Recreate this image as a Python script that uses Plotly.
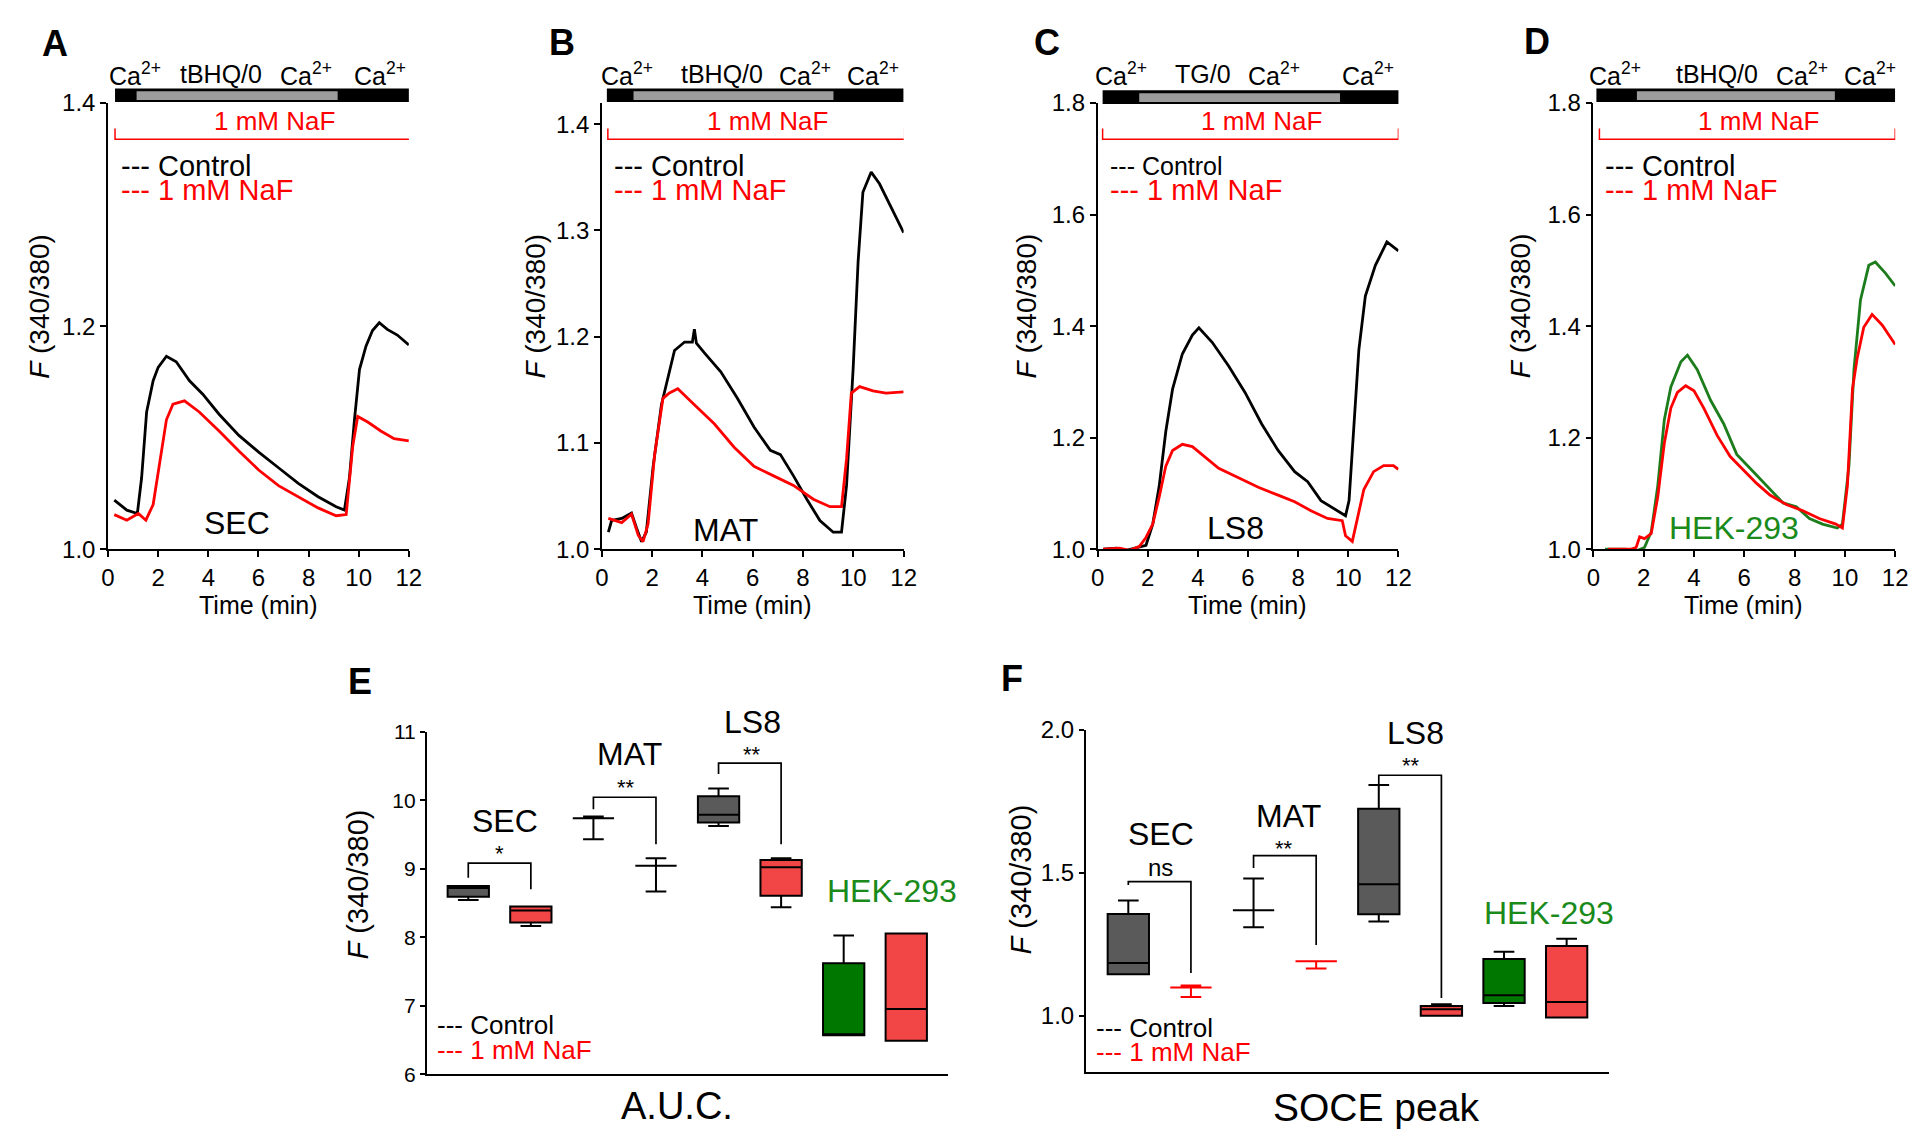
import plotly.graph_objects as go

W, H = 1920, 1137
def px(x): return x / W
def py(y): return 1 - y / H

FONT = "Liberation Sans, Arial, Helvetica, sans-serif"
RED = "#ff0000"
GREEN = "#1d7d1d"
GREEN_TXT = "#1a8a1a"
GRAY_FILL = "#5a5a5a"
RED_FILL = "#f24646"
GREEN_FILL = "#007800"

# ---------------- Data: time courses (min, F340/380) ----------------
A_ctrl_t = [0.25,0.75,1.17,1.34,1.54,1.80,2.0,2.33,2.72,3.25,3.78,4.43,5.22,6.01,6.8,7.59,8.38,9.1,9.43,9.63,9.83,10.03,10.29,10.55,10.82,11.14,11.54,12.0]
A_ctrl_v = [1.044,1.035,1.032,1.064,1.123,1.151,1.163,1.173,1.168,1.151,1.139,1.121,1.102,1.087,1.073,1.059,1.047,1.038,1.035,1.064,1.116,1.161,1.182,1.196,1.203,1.197,1.192,1.183]
A_naf_t = [0.25,0.75,1.21,1.51,1.80,2.07,2.33,2.59,3.05,3.64,4.43,5.22,6.01,6.8,7.59,8.38,9.1,9.5,9.76,9.96,10.36,10.88,11.41,12.0]
A_naf_v = [1.031,1.026,1.032,1.026,1.040,1.078,1.116,1.130,1.133,1.123,1.106,1.088,1.071,1.057,1.047,1.037,1.030,1.031,1.092,1.119,1.114,1.106,1.099,1.097]

B_ctrl_t = [0.26,0.39,0.79,1.18,1.38,1.58,1.77,2.04,2.37,2.63,2.89,3.29,3.60,3.68,3.76,4.07,4.73,5.39,6.05,6.70,7.10,7.62,8.15,8.67,9.2,9.53,9.73,9.99,10.19,10.38,10.71,11.04,11.5,12.0]
B_ctrl_v = [1.016,1.027,1.029,1.034,1.020,1.007,1.016,1.078,1.136,1.162,1.187,1.195,1.195,1.207,1.194,1.185,1.167,1.142,1.115,1.093,1.089,1.069,1.047,1.027,1.016,1.016,1.060,1.169,1.271,1.336,1.355,1.344,1.322,1.298]
B_naf_t = [0.26,0.79,1.18,1.45,1.64,1.84,2.10,2.43,2.69,3.02,3.68,4.47,5.26,6.05,6.83,7.62,8.41,9.07,9.53,9.73,9.92,10.25,10.78,11.3,12.0]
B_naf_v = [1.029,1.025,1.033,1.013,1.007,1.024,1.089,1.142,1.147,1.151,1.136,1.118,1.096,1.078,1.069,1.060,1.047,1.040,1.040,1.085,1.147,1.153,1.149,1.147,1.148]

C_ctrl_t = [0.22,0.75,1.14,1.54,1.93,2.20,2.46,2.72,2.99,3.38,3.78,4.04,4.57,5.22,5.88,6.54,7.20,7.86,8.38,8.91,9.43,9.89,10.03,10.22,10.42,10.68,11.08,11.54,12.0]
C_ctrl_v = [1.0,1.002,0.998,1.002,1.007,1.045,1.114,1.211,1.287,1.350,1.384,1.397,1.371,1.329,1.281,1.225,1.177,1.139,1.121,1.087,1.073,1.060,1.087,1.218,1.357,1.454,1.509,1.551,1.535]
C_naf_t = [0.22,0.88,1.28,1.67,1.93,2.2,2.46,2.72,2.99,3.38,3.78,4.17,4.83,5.62,6.41,7.20,7.86,8.51,9.17,9.76,9.89,10.16,10.36,10.62,11.01,11.41,11.80,12.0]
C_naf_v = [1.0,1.002,0.998,1.005,1.021,1.045,1.094,1.149,1.177,1.188,1.184,1.170,1.145,1.128,1.111,1.097,1.085,1.069,1.055,1.051,1.024,1.014,1.052,1.107,1.139,1.150,1.150,1.143]

D_ctrl_t = [0.46,1.25,1.77,2.03,2.30,2.56,2.82,3.08,3.48,3.74,4.13,4.66,5.18,5.70,6.36,7.02,7.54,8.07,8.59,9.11,9.70,9.90,10.16,10.36,10.62,10.95,11.21,11.61,12.0]
D_ctrl_v = [1.0,1.0,0.998,1.003,1.031,1.114,1.232,1.291,1.336,1.348,1.322,1.267,1.225,1.170,1.139,1.107,1.083,1.076,1.055,1.045,1.038,1.045,1.149,1.322,1.447,1.509,1.515,1.495,1.472]
D_naf_t = [0.59,1.51,1.70,1.84,2.03,2.30,2.56,2.82,3.08,3.34,3.67,4.0,4.39,4.92,5.44,5.97,6.49,7.02,7.67,8.33,8.98,9.64,9.90,10.10,10.30,10.49,10.75,11.08,11.48,12.0]
D_naf_v = [1.0,1.0,1.003,1.022,1.019,1.028,1.094,1.190,1.253,1.281,1.293,1.284,1.253,1.204,1.166,1.142,1.118,1.097,1.080,1.069,1.055,1.045,1.038,1.114,1.287,1.343,1.398,1.421,1.402,1.367]

# protocol timing bars (min)
proto_black = [(0.28, 12.08), (0.2, 12.0), (0.2, 12.12), (0.12, 12.0)]
proto_gray = [(1.14, 9.16), (1.26, 9.21), (1.66, 9.67), (1.73, 9.6)]
naf_span = [(0.28, 12.08), (0.24, 12.04), (0.2, 12.0), (0.24, 12.0)]
proto_labels = [["Ca<sup>2+</sup>", "tBHQ/0", "Ca<sup>2+</sup>", "Ca<sup>2+</sup>"],
                ["Ca<sup>2+</sup>", "tBHQ/0", "Ca<sup>2+</sup>", "Ca<sup>2+</sup>"],
                ["Ca<sup>2+</sup>", "TG/0", "Ca<sup>2+</sup>", "Ca<sup>2+</sup>"],
                ["Ca<sup>2+</sup>", "tBHQ/0", "Ca<sup>2+</sup>", "Ca<sup>2+</sup>"]]
cell_names = ["SEC", "MAT", "LS8", "HEK-293"]

# ---------------- Data: box plots ----------------
groups = ["SEC ctrl", "SEC NaF", "MAT ctrl", "MAT NaF", "LS8 ctrl", "LS8 NaF", "HEK ctrl", "HEK NaF"]
box_pos = [1, 2, 3, 4, 5, 6, 7, 8]
E_q1 = [8.593, 8.217, 9.739, 9.045, 9.677, 8.607, 6.571, 6.49]
E_med = [8.72, 8.39, 9.739, 9.045, 9.790, 9.021, 6.571, 6.956]
E_q3 = [8.75, 8.45, 9.739, 9.045, 10.058, 9.13, 7.622, 8.055]
E_lo = [8.545, 8.165, 9.43, 8.669, 9.625, 8.44, 6.571, 6.49]
E_hi = [8.75, 8.45, 9.763, 9.154, 10.172, 9.155, 8.027, 8.055]

F_q1 = [1.145, 1.099, 1.369, 1.191, 1.355, 1.0, 1.045, 0.994]
F_med = [1.185, 1.099, 1.369, 1.191, 1.460, 1.023, 1.072, 1.048]
F_q3 = [1.356, 1.099, 1.369, 1.191, 1.724, 1.034, 1.199, 1.244]
F_lo = [1.145, 1.066, 1.310, 1.165, 1.330, 1.0, 1.034, 0.994]
F_hi = [1.403, 1.106, 1.480, 1.191, 1.807, 1.040, 1.224, 1.269]

# significance brackets: (left x, right x, left foot, top, right foot, label)
E_sig = [(1, 2, 8.869, 9.083, 8.70, "*"), (3, 4, 9.868, 10.044, 9.359, "**"), (5, 6, 10.382, 10.543, 9.359, "**")]
F_sig = [(1, 2, 1.457, 1.469, 1.15, "ns"), (3, 4, 1.517, 1.560, 1.248, "**"), (5, 6, 1.809, 1.841, 1.0625, "**")]

# styles: (fill, line)
E_style = [(GRAY_FILL, "black"), (RED_FILL, "black"), (None, "black"), (None, "black"),
           (GRAY_FILL, "black"), (RED_FILL, "black"), (GREEN_FILL, "black"), (RED_FILL, "black")]
F_style = [(GRAY_FILL, "black"), (None, RED), (None, "black"), (None, RED),
           (GRAY_FILL, "black"), (RED_FILL, "black"), (GREEN_FILL, "black"), (RED_FILL, "black")]

fig = go.Figure()
annotations = []
shapes = []

def ann(text, x, y, size, color="black", xanchor="center", yanchor="middle", angle=0):
    annotations.append(dict(text=text, x=px(x), y=py(y), xref="paper", yref="paper", showarrow=False,
                            font=dict(size=size, color=color, family=FONT), xanchor=xanchor,
                            yanchor=yanchor, textangle=angle))

# ---------------- top panels ----------------
top_x = [(94, 398), (593, 898), (1094, 1398), (1595, 1900)]
top_y = (83, 540)
yranges = [[1.0, 1.4], [1.0, 1.42], [1.0, 1.8], [1.0, 1.8]]
yticks = [[1.0, 1.2, 1.4], [1.0, 1.1, 1.2, 1.3, 1.4], [1.0, 1.2, 1.4, 1.6, 1.8], [1.0, 1.2, 1.4, 1.6, 1.8]]
series = [(A_ctrl_t, A_ctrl_v, A_naf_t, A_naf_v, "black"),
          (B_ctrl_t, B_ctrl_v, B_naf_t, B_naf_v, "black"),
          (C_ctrl_t, C_ctrl_v, C_naf_t, C_naf_v, "black"),
          (D_ctrl_t, D_ctrl_v, D_naf_t, D_naf_v, GREEN)]
letters = ["A", "B", "C", "D"]
letter_pos = [(40, 22), (553, 21), (1043, 21), (1538, 20)]
label_x = [[121, 208, 294, 369], [618, 714, 798, 867], [1118, 1201, 1272, 1367], [1617, 1720, 1806, 1875]]
naf_text_x = [262, 760, 1260, 1762]
ytitle_x = [24, 526, 1022, 1521]
xtitle_x = [246, 745, 1245, 1747]
legend_x = [105, 603, 1104, 1605]
cell_pos = [(224, 513), (718, 520), (1233, 518), (1737, 518)]

axis_common = dict(showline=True, linecolor="black", linewidth=1.5, ticks="outside", ticklen=6,
                   tickwidth=1.5, tickcolor="black", showgrid=False, zeroline=False,
                   tickfont=dict(family=FONT, size=24, color="black"))

for i in range(4):
    n = i + 1
    xa = "x" if n == 1 else f"x{n}"
    ya = "y" if n == 1 else f"y{n}"
    ct, cv, nt, nv, ccol = series[i]
    fig.add_trace(go.Scatter(x=ct, y=cv, mode="lines", line=dict(color=ccol, width=2.8), xaxis=xa, yaxis=ya, showlegend=False))
    fig.add_trace(go.Scatter(x=nt, y=nv, mode="lines", line=dict(color=RED, width=2.8), xaxis=xa, yaxis=ya, showlegend=False))
    fig.layout[f"xaxis{'' if n == 1 else n}"] = dict(domain=[px(top_x[i][0]), px(top_x[i][1])], anchor=ya,
                                                     range=[0, 12], tickvals=[0, 2, 4, 6, 8, 10, 12], **axis_common)
    fig.layout[f"yaxis{'' if n == 1 else n}"] = dict(domain=[py(top_y[1]), py(top_y[0])], anchor=xa,
                                                     range=yranges[i], tickvals=yticks[i], tickformat=".1f", **axis_common)
    # protocol bar
    b0, b1 = proto_black[i]
    g0, g1 = proto_gray[i]
    ytop = 68 if i != 2 else 70
    shapes.append(dict(type="rect", xref=xa, yref="paper", x0=b0, x1=b1, y0=py(ytop + 14), y1=py(ytop),
                       fillcolor="black", line=dict(width=0)))
    shapes.append(dict(type="rect", xref=xa, yref="paper", x0=g0, x1=g1, y0=py(ytop + 12), y1=py(ytop + 3),
                       fillcolor="#9c9c9c", line=dict(width=0)))
    # NaF bracket
    n0, n1 = naf_span[i]
    shapes.append(dict(type="path", xref=xa, yref="paper",
                       path=f"M {n0},{py(109)} L {n0},{py(120)} L {n1},{py(120)} L {n1},{py(109)}",
                       line=dict(color=RED, width=1.5)))
    ann("1 mM NaF", naf_text_x[i], 101, 26, color=RED)
    for lx, lt in zip(label_x[i], proto_labels[i]):
        ann(lt, lx, 53, 25)
    ann(f"<b>{letters[i]}</b>", letter_pos[i][0], letter_pos[i][1], 36)
    ann("<i>F</i> (340/380)", ytitle_x[i], 291, 28, angle=-90)
    ann("Time (min)", xtitle_x[i], 597, 25)
    lsize = 29 if i != 2 else 25
    ann("--- Control", legend_x[i], 147, lsize, xanchor="left")
    ann("--- 1 mM NaF", legend_x[i], 172, 29, color=RED, xanchor="left")
    ann(cell_names[i], cell_pos[i][0], cell_pos[i][1], 32, color=(GREEN_TXT if i == 3 else "black"))

# ---------------- box panels ----------------
def add_boxes(n, q1, med, q3, lo, hi, styles, sig):
    xa, ya = f"x{n}", f"y{n}"
    for j in range(len(box_pos)):
        fill, lc = styles[j]
        fig.add_trace(go.Box(x=[box_pos[j]], q1=[q1[j]], median=[med[j]], q3=[q3[j]],
                             lowerfence=[lo[j]], upperfence=[hi[j]], width=0.66, whiskerwidth=0.5,
                             fillcolor=(fill if fill else "rgba(0,0,0,0)"), line=dict(color=lc, width=2),
                             boxpoints=False, xaxis=xa, yaxis=ya, showlegend=False, name=groups[j]))
    for (x0, x1, yl, yt, yr, lab) in sig:
        fig.add_trace(go.Scatter(x=[x0, x0, x1, x1], y=[yl, yt, yt, yr], mode="lines",
                                 line=dict(color="black", width=1.7), xaxis=xa, yaxis=ya, showlegend=False))

add_boxes(5, E_q1, E_med, E_q3, E_lo, E_hi, E_style, E_sig)
add_boxes(6, F_q1, F_med, F_q3, F_lo, F_hi, F_style, F_sig)

box_axis = dict(showline=True, linecolor="black", linewidth=1.5, showgrid=False, zeroline=False)
fig.layout["xaxis5"] = dict(domain=[px(416), px(943)], anchor="y5", range=[0.335, 8.67], showticklabels=False, ticks="", **box_axis)
fig.layout["yaxis5"] = dict(domain=[py(1078), py(727)], anchor="x5", range=[6, 11], tickvals=[6, 7, 8, 9, 10, 11],
                            ticks="outside", ticklen=5, tickwidth=1.5, tickcolor="black",
                            tickfont=dict(family=FONT, size=21, color="black"), **box_axis)
fig.layout["xaxis6"] = dict(domain=[px(1082), px(1611)], anchor="y6", range=[0.32, 8.68], showticklabels=False, ticks="", **box_axis)
fig.layout["yaxis6"] = dict(domain=[py(1076), py(725)], anchor="x6", range=[0.802, 2.0], tickvals=[1.0, 1.5, 2.0],
                            tickformat=".1f", ticks="outside", ticklen=5, tickwidth=1.5, tickcolor="black",
                            tickfont=dict(family=FONT, size=24, color="black"), **box_axis)

# E annotations
ann("<b>E</b>", 349, 676, 36)
ann("<i>F</i> (340/380)", 347, 883, 29, angle=-90)
ann("A.U.C.", 669, 1110, 38)
ann("SEC", 495, 818, 32)
ann("MAT", 621, 750, 32)
ann("LS8", 745, 717, 32)
ann("HEK-293", 886, 890, 32, color=GREEN_TXT)
ann("*", 490, 852, 22)
ann("**", 617, 784, 22)
ann("**", 745, 750, 22)
ann("--- Control", 424, 1027, 26, xanchor="left")
ann("--- 1 mM NaF", 424, 1053, 26, color=RED, xanchor="left")

# F annotations
ann("<b>F</b>", 1007, 672, 36)
ann("<i>F</i> (340/380)", 1017, 878, 29, angle=-90)
ann("SOCE peak", 1375, 1112, 39)
ann("SEC", 1158, 832, 32)
ann("MAT", 1287, 813, 32)
ann("LS8", 1415, 728, 32)
ann("HEK-293", 1550, 913, 32, color=GREEN_TXT)
ann("ns", 1158, 866, 24)
ann("**", 1282, 847, 22)
ann("**", 1411, 762, 22)
ann("--- Control", 1090, 1030, 26, xanchor="left")
ann("--- 1 mM NaF", 1090, 1055, 26, color=RED, xanchor="left")

fig.update_layout(width=W, height=H, margin=dict(l=0, r=0, t=0, b=0), paper_bgcolor="white",
                  plot_bgcolor="white", annotations=annotations, shapes=shapes, showlegend=False,
                  font=dict(family=FONT, color="black"), boxmode="overlay")

fig.write_html("out.html")
